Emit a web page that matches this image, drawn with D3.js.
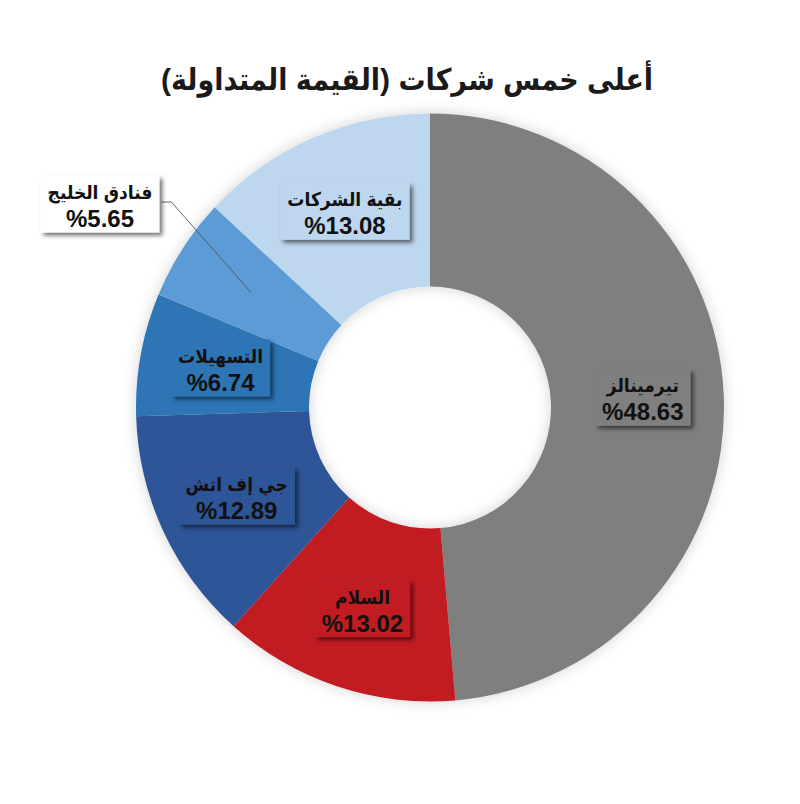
<!DOCTYPE html>
<html>
<head>
<meta charset="utf-8">
<script src="https://cdn.jsdelivr.net/npm/d3@7/dist/d3.min.js"></script>
<style>
  html, body { margin: 0; padding: 0; background: #ffffff; }
  svg { display: block; }
</style>
</head>
<body>
<div id="chart"></div>
<script>
// ---- data ----
const title = "أعلى خمس شركات (القيمة المتداولة)";
const categories = ["تيرمينالز", "السلام", "جي إف اتش", "التسهيلات", "فنادق الخليج", "بقية الشركات"];
const values = [48.63, 13.02, 12.89, 6.74, 5.65, 13.08];
const colors = ["#7f7f7f", "#c11c24", "#2e5597", "#2e75b6", "#5b9bd5", "#bcd7ee"];
const calloutIndex = 4; // label moved outside with a leader line

// ---- layout ----
const W = 800, H = 804;
const cx = 430, cy = 407.5;
const outerR = 294, innerR = 121, labelR = 213;
const fontFam = "'Liberation Sans', 'DejaVu Sans Condensed', 'DejaVu Sans', Arial, sans-serif";

const svg = d3.select("#chart").append("svg")
  .attr("width", W).attr("height", H);

const defs = svg.append("defs");
const sh = defs.append("filter").attr("id", "boxShadow")
  .attr("x", "-20%").attr("y", "-20%").attr("width", "150%").attr("height", "160%");
sh.append("feDropShadow").attr("dx", 3).attr("dy", 3).attr("stdDeviation", 2)
  .attr("flood-color", "#000").attr("flood-opacity", 0.55);

const dsh = defs.append("filter").attr("id", "donutShadow")
  .attr("x", "-20%").attr("y", "-20%").attr("width", "140%").attr("height", "140%");
dsh.append("feDropShadow").attr("dx", 0).attr("dy", 0).attr("stdDeviation", 7)
  .attr("flood-color", "#000").attr("flood-opacity", 0.18);

// title
svg.append("text")
  .attr("x", 407).attr("y", 90)
  .attr("text-anchor", "middle")
  .attr("direction", "rtl")
  .attr("font-family", fontFam)
  .attr("font-weight", "bold")
  .attr("font-size", 30)
  .attr("fill", "#1a1a1a")
  .text(title);

const pie = d3.pie().sort(null).value(d => d.value);
const data = categories.map((c, i) => ({ name: c, value: values[i], color: colors[i] }));
const arcs = pie(data);

const arc = d3.arc().innerRadius(innerR).outerRadius(outerR);
const labelArc = d3.arc().innerRadius(labelR).outerRadius(labelR);

const g = svg.append("g").attr("transform", `translate(${cx},${cy})`);

g.append("g").attr("filter", "url(#donutShadow)")
  .selectAll("path").data(arcs).join("path")
  .attr("d", arc)
  .attr("fill", d => d.data.color);

const fmt = d3.format(".2f");

arcs.forEach((a, i) => {
  const [lx, ly] = labelArc.centroid(a);
  let bx = lx, by = ly;
  const isCallout = i === calloutIndex;
  if (isCallout) {
    bx = 100 - cx; by = 205 - cy;
  }
  const lg = g.append("g").attr("transform", `translate(${bx},${by})`);
  const rect = lg.append("rect").attr("filter", "url(#boxShadow)")
    .attr("fill", isCallout ? "#ffffff" : a.data.color);
  const t1 = lg.append("text")
    .attr("x", 0).attr("y", -6)
    .attr("text-anchor", "middle")
    .attr("direction", "rtl")
    .attr("font-family", fontFam).attr("font-weight", "bold")
    .attr("font-size", 19).attr("fill", "#111")
    .text(a.data.name);
  const t2 = lg.append("text")
    .attr("x", 0).attr("y", 22)
    .attr("text-anchor", "middle")
    .attr("font-family", fontFam).attr("font-weight", "bold")
    .attr("font-size", 24).attr("fill", "#111")
    .text("%" + fmt(a.data.value));
  const w = Math.max(t1.node().getBBox().width, t2.node().getBBox().width) + 14;
  const h = 57;
  rect.attr("x", -w / 2).attr("y", -h / 2 - 1).attr("width", w).attr("height", h);

  if (isCallout) {
    const sx = bx + w / 2 + 2, sy = by - 3;
    g.insert("path", "g:last-child")
      .attr("d", `M${sx},${sy} L${sx + 10},${sy} L${lx},${ly}`)
      .attr("fill", "none").attr("stroke", "#555").attr("stroke-width", 0.9);
  }
});
</script>
</body>
</html>
